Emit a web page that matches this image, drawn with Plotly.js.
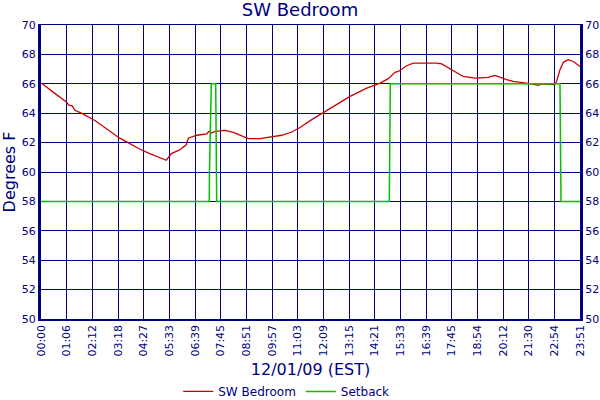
<!DOCTYPE html>
<html><head><meta charset="utf-8">
<script src="https://cdn.plot.ly/plotly-3.0.1.min.js"></script>
<style>html,body{margin:0;padding:0;background:#fff}#chart{width:600px;height:400px}</style>
</head><body><div id="chart"></div>
<script>
var tickLabels = ["00:00","01:06","02:12","03:18","04:27","05:33","06:39","07:45","08:51","09:57","11:03","12:09","13:15","14:21","15:33","16:39","17:45","18:54","20:12","21:30","22:54","23:51"];
var tickPos = tickLabels.map(function(_, i){ return i; });

// SW Bedroom temperature (x in sample-position units along the axis)
var roomX = [0,0.05,0.5,1.0,1.08,1.22,1.32,1.57,2.1,2.6,3.07,3.39,3.8,4.17,4.55,4.88,5.08,5.4,5.66,5.74,6.07,6.46,6.54,6.65,6.78,7.17,7.49,7.88,8.08,8.53,8.99,9.38,9.77,10.09,10.55,11.06,11.43,12.04,12.69,13.21,13.53,13.79,13.92,14.25,14.5,15.41,15.61,15.87,16.26,16.45,16.91,17.43,17.69,17.88,18.14,18.4,18.73,19.12,19.37,19.5,20.02,20.09,20.22,20.35,20.54,20.74,21.0];
var roomY = [66.05,66.0,65.4,64.75,64.55,64.5,64.2,64.0,63.5,62.9,62.3,62.0,61.6,61.3,61.05,60.8,61.25,61.5,61.85,62.3,62.5,62.6,62.76,62.65,62.76,62.83,62.7,62.42,62.27,62.27,62.38,62.5,62.72,63.03,63.56,64.12,64.5,65.14,65.71,66.05,66.35,66.78,66.84,67.23,67.41,67.41,67.35,67.07,66.69,66.5,66.39,66.44,66.57,66.44,66.28,66.17,66.1,65.99,65.89,65.99,65.94,66.17,66.96,67.46,67.64,67.52,67.18];

// Setback setpoint
var setX = [0,6.556,6.564,6.603,6.634,6.806,6.817,6.845,13.57,13.576,13.61,20.22,20.26,21.0];
var setY = [58,58,60,64,66,66,62,58,58,62,66,66,58,58];

var navy = '#000080';
var fontFam = 'DejaVu Sans, Verdana, sans-serif';

var traces = [
  {x: roomX, y: roomY, name: 'SW Bedroom', mode: 'lines', line: {color: '#cc0000', width: 1.3}},
  {x: setX, y: setY, name: 'Setback', mode: 'lines', line: {color: '#00c000', width: 1.5}},
  {x: [0], y: [50], yaxis: 'y2', mode: 'lines', showlegend: false, hoverinfo: 'skip', opacity: 0}
];

var layout = {
  width: 600, height: 400,
  margin: {l: 41, r: 20, t: 25, b: 81, autoexpand: false},
  paper_bgcolor: '#fff', plot_bgcolor: '#fff',
  font: {family: fontFam, color: navy, size: 11},
  title: {text: 'SW Bedroom', font: {size: 18, color: navy, family: fontFam}, x: 0.5, xanchor: 'center', y: 0.975, yanchor: 'middle'},
  xaxis: {
    range: [0, 21], tickmode: 'array', tickvals: tickPos, ticktext: tickLabels,
    tickangle: -90, tickfont: {size: 11, color: navy},
    showgrid: true, gridcolor: navy, gridwidth: 1,
    showline: true, linecolor: navy, linewidth: 1.5, mirror: true,
    zeroline: false, ticks: '', ticklen: 0, automargin: false,
    title: {text: '12/01/09 (EST)', font: {size: 16, color: navy}, standoff: 8}
  },
  yaxis: {
    range: [50, 70], dtick: 2, tick0: 50, automargin: false,
    showgrid: true, gridcolor: navy, gridwidth: 1,
    showline: true, linecolor: navy, linewidth: 3,
    zeroline: false, ticks: '', tickfont: {size: 11, color: navy},
    title: {text: 'Degrees F', font: {size: 16, color: navy}, standoff: 4}
  },
  yaxis2: {
    range: [50, 70], dtick: 2, tick0: 50, overlaying: 'y', side: 'right', automargin: false,
    showgrid: false, showline: true, linecolor: navy, linewidth: 3,
    zeroline: false, ticks: '', tickfont: {size: 11, color: navy}
  },
  showlegend: true,
  legend: {orientation: 'h', x: 0.455, xanchor: 'center', y: -0.197, yanchor: 'top',
           font: {size: 12, color: navy}, itemwidth: 30, tracegroupgap: 0}
};

Plotly.newPlot('chart', traces, layout, {displayModeBar: false, staticPlot: true});
</script>
</body></html>
